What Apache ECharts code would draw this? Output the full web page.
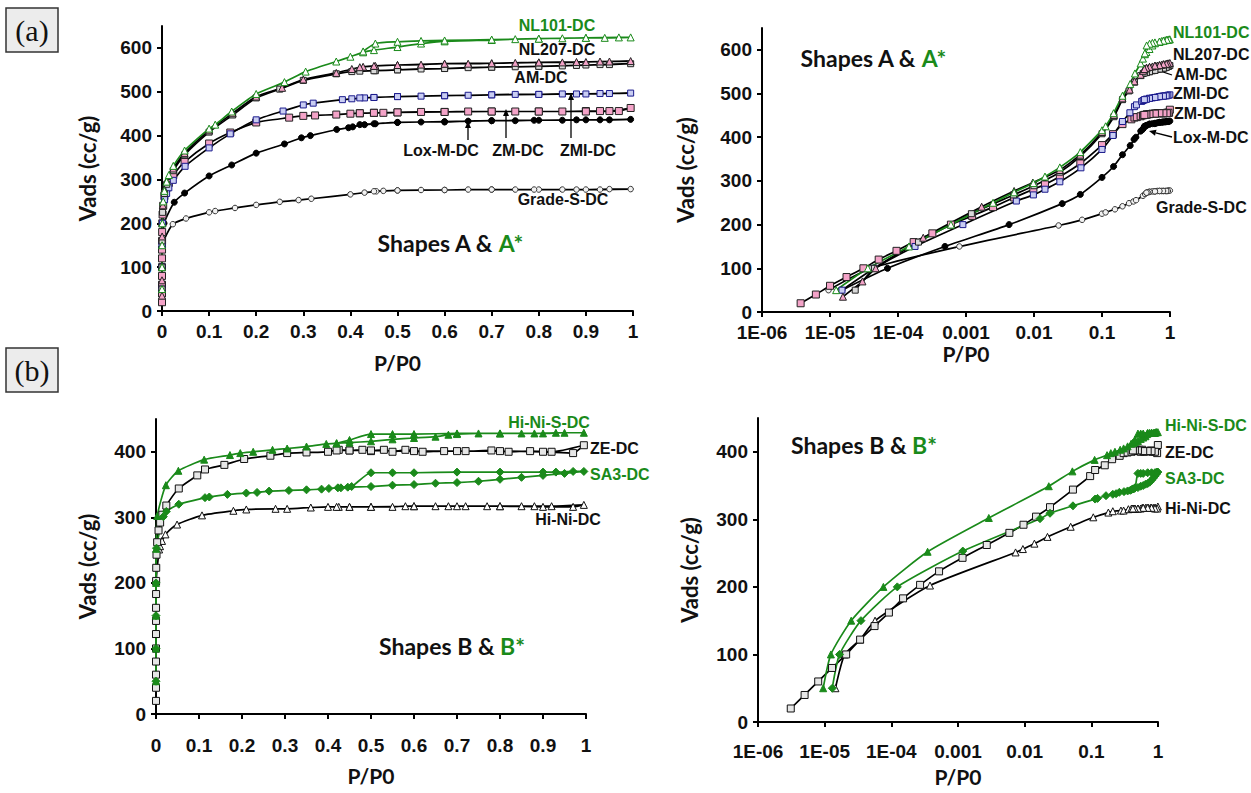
<!DOCTYPE html>
<html>
<head>
<meta charset="utf-8">
<script src="https://cdn.jsdelivr.net/npm/echarts@6/dist/echarts.min.js"></script>
<style>
  html, body { margin: 0; padding: 0; background: #fff; }
  #chart { width: 1251px; height: 793px; }
</style>
</head>
<body>
<div id="chart"></div>
<script>
// Isotermas: [P/P0, Vads cc/g] -- adsorcion y luego desorcion
const nl101Ads = [[1.23e-5,50],[3.6e-5,100],[1.45e-4,150],[6e-4,200],[2.5e-3,250],[5.1e-3,274],[0.0098,295],[0.0145,310],[0.024,331],[0.048,366],[0.1,416],[0.113,425],[0.148,455],[0.2,495],[0.26,522],[0.305,546],[0.37,569],[0.4,580],[0.427,590],[0.45,595],[0.5,602],[0.55,610],[0.6,615],[0.7,618],[0.75,620],[0.8,621],[0.85,622],[0.9,623],[0.94,623],[0.995,624]];
const nl101Des = [[0.97,624],[0.9,623],[0.8,621],[0.7,619],[0.6,617],[0.55,616],[0.5,614],[0.453,610],[0.427,592]];

const nl207Ads = [[1.55e-5,35],[3e-5,70],[4.7e-5,100],[2.35e-4,170],[1.7e-3,241],[5.1e-3,277],[9.6e-3,296],[0.024,325],[0.048,360],[0.1,412],[0.15,451],[0.2,489],[0.255,509],[0.3,528],[0.37,543],[0.403,552],[0.427,557],[0.453,559],[0.5,561],[0.55,562],[0.6,564],[0.65,564],[0.7,565],[0.75,566],[0.8,567],[0.85,567],[0.9,568],[0.95,569],[0.995,570]];
const nl207Des = [[0.93,569],[0.88,568],[0.8,567],[0.7,565],[0.6,564],[0.5,561],[0.45,559],[0.42,556]];

const amAds = [[2.35e-5,50],[4.5e-5,100],[2e-4,160],[1.2e-3,225],[5e-3,268],[0.01,289],[0.024,320],[0.048,356],[0.1,408],[0.15,447],[0.2,486],[0.25,506],[0.3,526],[0.37,541],[0.403,546],[0.453,548],[0.5,550],[0.55,552],[0.6,553],[0.65,555],[0.7,556],[0.75,557],[0.8,558],[0.85,559],[0.9,561],[0.95,562],[0.995,564]];
const amDes = [[0.93,562],[0.88,560],[0.8,558],[0.7,556],[0.6,553],[0.5,550],[0.45,548],[0.42,547]];

const zmiAds = [[1.5e-5,50],[4.5e-5,100],[1.78e-4,150],[9e-4,200],[5.5e-3,254],[9.8e-3,268],[0.0145,281],[0.024,298],[0.049,330],[0.1,372],[0.145,404],[0.2,436],[0.257,456],[0.3,470],[0.321,474],[0.383,482],[0.403,484],[0.43,486],[0.45,487],[0.5,489],[0.55,490],[0.6,491],[0.65,492],[0.7,493],[0.75,494],[0.8,494],[0.85,495],[0.9,495],[0.95,496],[0.995,497]];
const zmiDes = [[0.93,496],[0.88,495],[0.8,494],[0.7,493],[0.6,491],[0.5,489],[0.45,487],[0.42,486]];

const zmAds = [[3.7e-6,20],[6.2e-6,40],[1e-5,60],[1.75e-5,80],[3.1e-5,100],[5.2e-5,120],[9.5e-5,140],[1.7e-4,160],[3.2e-4,180],[6e-4,200],[1.23e-3,220],[2.5e-3,240],[5.1e-3,262],[9.8e-3,281],[0.0145,292],[0.024,310],[0.048,340],[0.1,382],[0.145,407],[0.2,430],[0.27,441],[0.3,445],[0.325,446],[0.37,448],[0.4,450],[0.42,451],[0.45,452],[0.47,452],[0.5,453],[0.55,454],[0.6,454],[0.65,455],[0.7,455],[0.75,455],[0.8,455],[0.85,455],[0.9,456],[0.93,456],[0.97,456],[0.995,463]];
const zmDes = [[0.95,456],[0.9,455],[0.8,455],[0.7,455],[0.6,454],[0.5,453],[0.45,452],[0.42,451]];

const loxAds = [[1.5e-5,50],[7e-5,100],[4.9e-4,150],[4.3e-3,200],[0.026,248],[0.048,269],[0.1,308],[0.148,333],[0.2,360],[0.26,381],[0.296,395],[0.315,400],[0.371,414],[0.396,418],[0.405,420],[0.43,425],[0.453,427],[0.5,430],[0.55,431],[0.6,431],[0.65,433],[0.7,434],[0.75,434],[0.8,435],[0.85,435],[0.9,436],[0.95,436],[0.995,437]];
const loxDes = [[0.93,436],[0.88,436],[0.79,435],[0.7,434],[0.6,432],[0.5,430],[0.45,427],[0.42,425]];

const gradeAds = [[9.5e-6,50],[4e-5,100],[8e-4,150],[0.023,198],[0.051,211],[0.1,225],[0.113,228],[0.155,235],[0.2,242],[0.25,249],[0.29,253],[0.317,256],[0.4,266],[0.43,270],[0.455,273],[0.5,275],[0.55,276],[0.6,276],[0.65,277],[0.7,277],[0.75,277],[0.8,277],[0.85,277],[0.9,277],[0.95,278],[0.995,278]];
const gradeDes = [[0.93,277],[0.88,277],[0.79,277],[0.7,277],[0.6,276],[0.5,275],[0.47,274],[0.45,273]];

const hiNiSAds = [[9.5e-6,50],[1.24e-5,100],[2.5e-5,150],[7.6e-5,200],[3.5e-4,252],[2.9e-3,302],[0.023,349],[0.052,371],[0.112,388],[0.172,395],[0.196,398],[0.226,400],[0.271,403],[0.305,405],[0.35,408],[0.396,412],[0.42,413],[0.45,414],[0.5,416],[0.55,419],[0.6,421],[0.65,423],[0.68,426],[0.7,427],[0.75,428],[0.8,428],[0.85,428],[0.9,428],[0.95,429],[0.995,429]];
const hiNiSDes = [[0.93,429],[0.88,428],[0.8,428],[0.7,428],[0.6,427],[0.55,427],[0.5,427],[0.45,418],[0.42,413]];

const zeAds = [[3.1e-6,20],[5e-6,40],[8e-6,60],[1.29e-5,80],[2.1e-5,100],[3.4e-5,122],[5.6e-5,142],[9.2e-5,162],[1.5e-4,183],[2.7e-4,203],[5.2e-4,223],[1.17e-3,243],[2.7e-3,262],[5.9e-3,280],[9.6e-3,292],[0.0148,304],[0.024,318],[0.053,344],[0.096,364],[0.114,373],[0.159,380],[0.205,389],[0.266,394],[0.305,398],[0.35,399],[0.4,400],[0.425,403],[0.45,402],[0.48,403],[0.5,401],[0.53,403],[0.55,400],[0.58,403],[0.62,400],[0.67,401],[0.72,401],[0.78,402],[0.82,400],[0.87,401],[0.92,400],[0.995,410]];
const zeDes = [[0.97,398],[0.9,400],[0.8,401],[0.7,401],[0.6,401],[0.5,402],[0.45,402],[0.42,402]];

const sa3Ads = [[1.3e-5,50],[1.67e-5,100],[3.5e-5,150],[1.23e-4,200],[1.18e-3,253],[0.017,301],[0.024,309],[0.053,320],[0.114,330],[0.124,331],[0.166,335],[0.21,337],[0.235,338],[0.263,340],[0.309,341],[0.35,342],[0.385,343],[0.402,344],[0.423,345],[0.446,346],[0.5,347],[0.55,349],[0.6,350],[0.65,352],[0.7,353],[0.75,355],[0.8,358],[0.85,361],[0.9,364],[0.95,367],[0.995,370]];
const sa3Des = [[0.97,370],[0.93,369],[0.9,369],[0.8,369],[0.7,369],[0.6,368],[0.55,368],[0.5,368],[0.455,347],[0.43,345]];

const hiNiAds = [[1.45e-5,50],[2e-5,100],[3.4e-5,122],[5.7e-5,150],[3.8e-4,202],[7.3e-3,251],[9.4e-3,256],[0.014,264],[0.022,274],[0.049,289],[0.107,303],[0.18,310],[0.21,312],[0.278,313],[0.305,313],[0.36,315],[0.4,316],[0.425,316],[0.45,316],[0.5,316],[0.55,316],[0.58,317],[0.6,317],[0.65,317],[0.68,317],[0.72,317],[0.77,317],[0.8,317],[0.85,317],[0.88,317],[0.92,317],[0.995,319]];
const hiNiDes = [[0.97,316],[0.9,316],[0.8,317],[0.7,317],[0.6,317],[0.5,316],[0.45,316],[0.42,316]];

// etiquetas de ejes
const linTickLabels = ['0','0.1','0.2','0.3','0.4','0.5','0.6','0.7','0.8','0.9','1'];
const logTickLabels = ['1E-06','1E-05','1E-04','0.001','0.01','0.1','1'];
const yTicksA = [0,100,200,300,400,500,600];
const yTicksB = [0,100,200,300,400];

const GREEN = '#1a8a1a';
const TICK_FONT = '"Liberation Sans", Arial, sans-serif';
const TITLE_FONT = 'Lato, "Open Sans", sans-serif';

const styles = {
  nl101: { symbol: 'triangle', size: 7, fill: '#ffffff', edge: GREEN, line: GREEN },
  nl207: { symbol: 'triangle', size: 7, fill: '#f4a3c8', edge: '#222', line: '#000' },
  am:    { symbol: 'rect', size: 6, fill: '#d9d9d9', edge: '#222', line: '#000' },
  zmi:   { symbol: 'rect', size: 6, fill: '#c9cdf2', edge: '#1a1a8c', line: '#000' },
  zm:    { symbol: 'rect', size: 7, fill: '#f4a3c8', edge: '#222', line: '#000' },
  lox:   { symbol: 'circle', size: 6, fill: '#000', edge: '#000', line: '#000' },
  grade: { symbol: 'circle', size: 5.5, fill: '#f2f2f2', edge: '#333', line: '#000' },
  hiNiS: { symbol: 'triangle', size: 7, fill: GREEN, edge: GREEN, line: GREEN },
  ze:    { symbol: 'rect', size: 7, fill: '#e6e6e6', edge: '#111', line: '#000' },
  sa3:   { symbol: 'diamond', size: 8, fill: GREEN, edge: GREEN, line: GREEN },
  hiNi:  { symbol: 'triangle', size: 7, fill: '#ffffff', edge: '#111', line: '#000' }
};

const chart = echarts.init(document.getElementById('chart'), null, { renderer: 'svg' });

function iso(name, ads, des, st, axis) {
  return {
    name: name,
    type: 'line',
    xAxisIndex: axis,
    yAxisIndex: axis,
    data: ads.concat(des),
    symbol: st.symbol,
    symbolSize: st.size,
    showAllSymbol: true,
    smooth: 0.2,
    animation: false,
    lineStyle: { color: st.line, width: 1.7 },
    itemStyle: { color: st.fill, borderColor: st.edge, borderWidth: 1 },
    emphasis: { disabled: true }
  };
}

const axisLine = { lineStyle: { color: '#000', width: 2 } };
const tickLabel = { color: '#111', fontFamily: TICK_FONT, fontWeight: 'bold', fontSize: 19 };
const nameStyle = { color: '#111', fontFamily: TITLE_FONT, fontWeight: 'bold', fontSize: 21 };
const yNameStyle = { color: '#111', fontFamily: TITLE_FONT, fontWeight: 'bold', fontSize: 22 };

function linX(grid, margin, gap) {
  return {
    type: 'value', gridIndex: grid, min: 0, max: 1, interval: 0.1,
    axisLine: axisLine,
    axisTick: { length: 5, lineStyle: { color: '#000', width: 2 } },
    splitLine: { show: false },
    axisLabel: Object.assign({ margin: margin, formatter: v => linTickLabels[Math.round(v * 10)] }, tickLabel),
    name: 'P/P0', nameLocation: 'middle', nameGap: gap, nameTextStyle: nameStyle
  };
}

function logX(grid, margin, gap) {
  return {
    type: 'log', logBase: 10, gridIndex: grid, min: 1e-6, max: 1, splitNumber: 6,
    axisLine: axisLine,
    axisTick: { length: 5, lineStyle: { color: '#000', width: 2 } },
    minorTick: { show: false },
    splitLine: { show: false },
    axisLabel: Object.assign({ margin: margin, formatter: v => logTickLabels[Math.round(Math.log10(v)) + 6] }, tickLabel),
    name: 'P/P0', nameLocation: 'middle', nameGap: gap, nameTextStyle: nameStyle
  };
}

function valY(grid, max, ticks, gap) {
  return {
    type: 'value', gridIndex: grid, min: 0, max: max, interval: 100,
    axisLine: Object.assign({ onZero: false }, axisLine),
    axisTick: { show: true, length: 5, customValues: ticks, lineStyle: { color: '#000', width: 2 } },
    splitLine: { show: false },
    axisLabel: Object.assign({ margin: 10, customValues: ticks,
      formatter: v => (v > ticks[ticks.length - 1] ? '' : String(v)) }, tickLabel),
    name: 'Vads (cc/g)', nameLocation: 'middle', nameRotate: 90, nameGap: gap, nameTextStyle: yNameStyle
  };
}

function label(text, x, y, opts) {
  opts = opts || {};
  return {
    type: 'text', x: x, y: y, z: 100,
    style: {
      text: text,
      fill: opts.fill || '#111',
      font: 'bold 16px ' + TICK_FONT,
      align: opts.align || 'center',
      verticalAlign: 'middle'
    }
  };
}

function shapes(letter, x, y) {
  return {
    type: 'text', x: x, y: y, z: 100,
    style: {
      text: '{k|Shapes ' + letter + ' & }{g|' + letter + '*}',
      align: 'center', verticalAlign: 'middle',
      rich: {
        k: { fill: '#111', font: 'bold 23px ' + TITLE_FONT },
        g: { fill: GREEN, font: 'bold 23px ' + TITLE_FONT }
      }
    }
  };
}

function arrow(x1, y1, x2, y2) {
  const a = Math.atan2(y2 - y1, x2 - x1);
  const L = 7, W = 3;
  const bx = x2 - L * Math.cos(a), by = y2 - L * Math.sin(a);
  return {
    type: 'group', z: 100,
    children: [
      { type: 'line', shape: { x1: x1, y1: y1, x2: bx, y2: by }, style: { stroke: '#000', lineWidth: 1.3 } },
      { type: 'polygon', shape: { points: [[x2, y2],
          [bx + W * Math.sin(a), by - W * Math.cos(a)],
          [bx - W * Math.sin(a), by + W * Math.cos(a)]] }, style: { fill: '#000' } }
    ]
  };
}

function panelBox(text, x, y) {
  return {
    type: 'group', x: x, y: y, z: 100,
    children: [
      { type: 'rect', shape: { x: 0, y: 0, width: 52, height: 44 }, style: { fill: '#ececec', stroke: '#333', lineWidth: 1.5 } },
      { type: 'text', x: 26, y: 22, style: { text: text, font: '30px "Liberation Serif", "DejaVu Serif", serif', fill: '#111', align: 'center', verticalAlign: 'middle' } }
    ]
  };
}

const seriesA = [
  ['Grade-S-DC', gradeAds, gradeDes, styles.grade],
  ['Lox-M-DC', loxAds, loxDes, styles.lox],
  ['ZM-DC', zmAds, zmDes, styles.zm],
  ['ZMI-DC', zmiAds, zmiDes, styles.zmi],
  ['AM-DC', amAds, amDes, styles.am],
  ['NL207-DC', nl207Ads, nl207Des, styles.nl207],
  ['NL101-DC', nl101Ads, nl101Des, styles.nl101]
];
const seriesB = [
  ['Hi-Ni-DC', hiNiAds, hiNiDes, styles.hiNi],
  ['ZE-DC', zeAds, zeDes, styles.ze],
  ['SA3-DC', sa3Ads, sa3Des, styles.sa3],
  ['Hi-Ni-S-DC', hiNiSAds, hiNiSDes, styles.hiNiS]
];

const series = [];
seriesA.forEach(s => { series.push(iso(s[0], s[1], s[2], s[3], 0)); });
seriesA.forEach(s => { series.push(iso(s[0], s[1], s[2], s[3], 1)); });
seriesB.forEach(s => { series.push(iso(s[0], s[1], s[2], s[3], 2)); });
seriesB.forEach(s => { series.push(iso(s[0], s[1], s[2], s[3], 3)); });

const option = {
  backgroundColor: '#ffffff',
  animation: false,
  grid: [
    { left: 162, top: 26, width: 471, height: 285, outerBoundsMode: 'none' },
    { left: 762, top: 28, width: 408, height: 284, outerBoundsMode: 'none' },
    { left: 156, top: 419, width: 430, height: 295, outerBoundsMode: 'none' },
    { left: 758, top: 418, width: 400, height: 304, outerBoundsMode: 'none' }
  ],
  xAxis: [
    linX(0, 11, 41),
    logX(1, 11, 27),
    linX(2, 22, 51),
    logX(3, 20, 44)
  ],
  yAxis: [
    valY(0, 650, yTicksA, 64),
    valY(1, 650, yTicksA, 66),
    valY(2, 450, yTicksB, 58),
    valY(3, 450, yTicksB, 58)
  ],
  series: series,
  graphic: [
    panelBox('(a)', 6, 8),
    panelBox('(b)', 6, 348),
    // panel (a) lineal
    label('NL101-DC', 557, 25, { fill: GREEN }),
    label('NL207-DC', 557, 49),
    label('AM-DC', 541, 77),
    label('Lox-M-DC', 441, 150),
    label('ZM-DC', 518, 150),
    label('ZMI-DC', 588, 150),
    label('Grade-S-DC', 563, 199),
    arrow(468, 140, 468, 121),
    arrow(506, 138, 506, 109),
    arrow(571, 138, 571, 93),
    shapes('A', 450, 243),
    // panel (a) log
    label('NL101-DC', 1173, 32, { fill: GREEN, align: 'left' }),
    label('NL207-DC', 1173, 54, { align: 'left' }),
    label('AM-DC', 1174, 74, { align: 'left' }),
    label('ZMI-DC', 1173, 93, { align: 'left' }),
    label('ZM-DC', 1174, 113, { align: 'left' }),
    label('Lox-M-DC', 1173, 137, { align: 'left' }),
    label('Grade-S-DC', 1156, 207, { align: 'left' }),
    arrow(1172, 75, 1148, 67),
    arrow(1172, 137, 1149, 131),
    shapes('A', 873, 58),
    // panel (b) lineal
    label('Hi-Ni-S-DC', 549, 422, { fill: GREEN }),
    label('ZE-DC', 590, 448, { align: 'left' }),
    label('SA3-DC', 590, 474, { fill: GREEN, align: 'left' }),
    label('Hi-Ni-DC', 568, 519),
    shapes('B', 452, 646),
    // panel (b) log
    label('Hi-Ni-S-DC', 1165, 425, { fill: GREEN, align: 'left' }),
    label('ZE-DC', 1165, 452, { align: 'left' }),
    label('SA3-DC', 1165, 478, { fill: GREEN, align: 'left' }),
    label('Hi-Ni-DC', 1165, 508, { align: 'left' }),
    shapes('B', 864, 445)
  ]
};

chart.setOption(option);
</script>
</body>
</html>
